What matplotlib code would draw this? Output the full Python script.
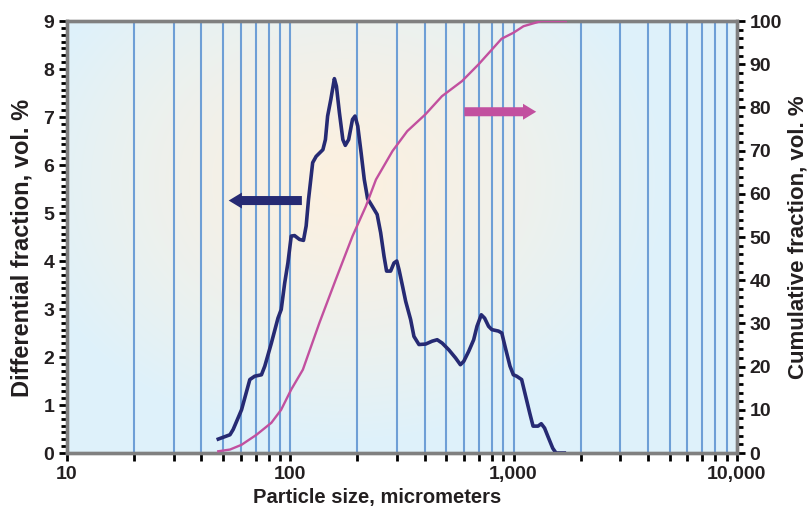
import matplotlib
matplotlib.use("Agg")
import matplotlib.pyplot as plt
import numpy as np
from matplotlib.ticker import FixedLocator, FuncFormatter, MultipleLocator
from matplotlib.patches import FancyArrowPatch

plt.rcParams['font.family'] = ['Liberation Sans', 'DejaVu Sans']

# differential size distribution (micrometers, vol. %)
diff_size = [47.6, 53.7, 55.5, 60.5, 65.9, 69.3, 74.3, 76.9, 82.3, 88.1, 91.1, 94.4,
             97.6, 101, 104.5, 110, 114.6, 117.8, 120.7, 126, 130.6, 140, 143.7, 147,
             152, 157.6, 161, 166, 172, 176.4, 182.6, 190, 195, 200.6, 207.7, 214.5,
             222, 233, 245, 254, 263, 270, 281.5, 291.5, 300, 307, 318.5, 328.8, 346,
             358, 377, 404, 432, 455, 479, 513, 550, 578, 598.5, 630, 663, 686, 717,
             742, 773, 800, 856, 886, 916, 964, 998, 1033, 1087, 1124, 1182, 1223,
             1287, 1331, 1377, 1424, 1498, 1550, 1688]
diff_frac = [0.29, 0.38, 0.49, 0.90, 1.53, 1.60, 1.63, 1.81, 2.29, 2.81, 2.99, 3.54,
             3.96, 4.52, 4.53, 4.45, 4.43, 4.73, 5.28, 6.05, 6.18, 6.32, 6.53, 7.02,
             7.37, 7.80, 7.64, 7.09, 6.53, 6.41, 6.53, 6.95, 7.02, 6.81, 6.25, 5.70,
             5.30, 5.14, 4.97, 4.59, 4.10, 3.79, 3.79, 3.96, 4.00, 3.82, 3.47, 3.16, 2.78,
             2.43, 2.26, 2.27, 2.33, 2.36, 2.29, 2.15, 1.98, 1.84, 1.91, 2.12, 2.36, 2.64, 2.88,
             2.81, 2.64, 2.57, 2.54, 2.50, 2.22, 1.81, 1.63, 1.60, 1.53, 1.25, 0.83, 0.56,
             0.56, 0.61, 0.52, 0.35, 0.10, 0.0, 0.0]

# cumulative distribution (vol. %)
cum_size = [47.6, 53.7, 60.5, 70.5, 82.3, 91, 101, 113.9, 135, 160, 190, 218, 242,
            287, 334, 403, 478, 588, 698, 800, 884, 1000, 1108, 1331, 1714]
cum_frac = [0.4, 0.8, 1.9, 4.2, 7.0, 10.0, 14.7, 19.3, 30.1, 40.2, 50.2, 57.1, 63.3,
            69.9, 74.5, 78.4, 82.6, 86.1, 90.0, 93.4, 95.9, 97.3, 98.8, 100, 100]

major_x = [10, 100, 1000, 10000]
minor_x = [m * d for d in (10, 100, 1000) for m in range(2, 10)]

navy = '#262a73'
magenta = '#c2509f'
txt = '#231f20'

fig = plt.figure(figsize=(8.08, 5.07), dpi=100)
ax = fig.add_axes([0.0829, 0.1065, 0.829, 0.852])

# radial background: warm centre, light blue edges
w, h = 670, 432
xx, yy = np.meshgrid(np.arange(w), np.arange(h))
r = np.sqrt((xx - 0.41 * w) ** 2 + ((yy - 0.37 * h) * 1.25) ** 2) / 330.0
t = np.clip(r, 0, 1) ** 1.3
c_in = np.array([252, 240, 224]) / 255.0
c_out = np.array([222, 242, 251]) / 255.0
img = c_in[None, None, :] * (1 - t[..., None]) + c_out[None, None, :] * t[..., None]
ax.imshow(img, extent=[0, 1, 0, 1], transform=ax.transAxes, aspect='auto',
          zorder=0, interpolation='bilinear')

ax.set_xscale('log')
ax.set_xlim(10, 10000)
ax.set_ylim(0, 9)

for gx in minor_x + [100, 1000]:
    ax.axvline(gx, color='#6e9fd6', lw=1.5, zorder=1)

ax.plot(diff_size, diff_frac, color=navy, lw=2.6, zorder=4)

ax2 = ax.twinx()
ax2.set_ylim(0, 100)
ax2.plot(cum_size, cum_frac, color=magenta, lw=1.7, zorder=3)

# direction arrows
arrow_style = 'simple,tail_width=0.65,head_width=1.15,head_length=0.95'
ax.add_patch(FancyArrowPatch((116, 5.26), (51.5, 5.26), arrowstyle=arrow_style,
                             mutation_scale=10, color=navy, lw=0, zorder=5))
ax.add_patch(FancyArrowPatch((585, 7.11), (1300, 7.11), arrowstyle=arrow_style,
                             mutation_scale=10, color=magenta, lw=0, zorder=5))

ax.xaxis.set_major_locator(FixedLocator(major_x))
ax.xaxis.set_minor_locator(FixedLocator(minor_x))
ax.xaxis.set_major_formatter(FuncFormatter(lambda v, p: '{:,}'.format(int(round(v)))))
ax.xaxis.set_minor_formatter(FuncFormatter(lambda v, p: ''))
ax.yaxis.set_major_locator(MultipleLocator(1))
ax.yaxis.set_minor_locator(MultipleLocator(1 / 7))
ax2.yaxis.set_major_locator(MultipleLocator(10))
ax2.yaxis.set_minor_locator(MultipleLocator(2))

for a in (ax, ax2):
    for s in a.spines.values():
        s.set_color('#808080')
        s.set_linewidth(2.4)
    a.tick_params(which='major', direction='out', length=6, width=2, color='black',
                  labelsize=14, labelcolor=txt, pad=3)
    a.tick_params(which='minor', direction='out', length=4, width=2, color='black')
    for lab in a.get_xticklabels() + a.get_yticklabels():
        lab.set_fontweight('bold')
ax.tick_params(axis='x', which='minor', length=6)
ax2.tick_params(axis='y', which='both', left=False)

ax.set_xlabel('Particle size, micrometers', fontsize=14.5, fontweight='bold', color=txt)
ax.xaxis.set_label_coords(0.463, -0.082)
ax.set_ylabel('Differential fraction, vol. %', fontsize=17, fontweight='bold', color=txt)
ax.yaxis.set_label_coords(-0.05, 0.475)
ax2.set_ylabel('Cumulative fraction, vol. %', fontsize=16, fontweight='bold',
               color=txt, labelpad=4)

fig.savefig('out.png', dpi=100)
